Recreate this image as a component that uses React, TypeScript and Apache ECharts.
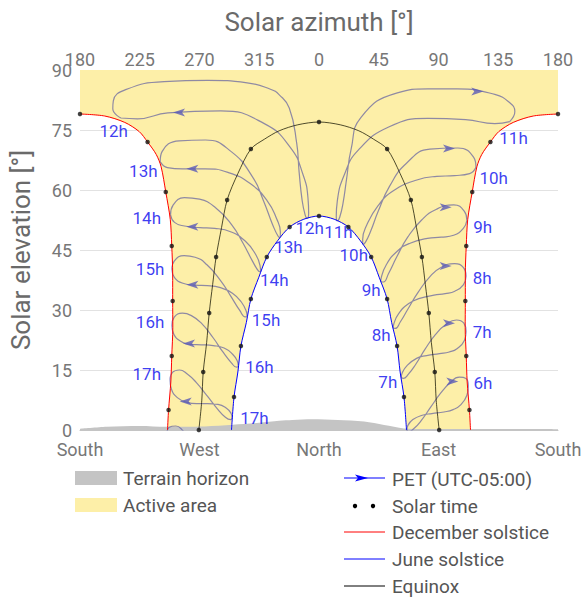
import React, { useEffect, useRef } from 'react';
import * as echarts from 'echarts';

type Pt = [number, number];

// ---------- tick labels ----------
const directionLabels = ['South', 'West', 'North', 'East', 'South'];
const azimuthTickLabels = ['180', '225', '270', '315', '0', '45', '90', '135', '180'];

// ---------- terrain horizon [azimuth from north (°, west negative), elevation (°)] ----------
const terrainHorizon: Pt[] = [
  [-180, 0.3], [-160, 0.8], [-135, 1.0], [-115, 0.8], [-86, 0.9], [-65, 1.3], [-45, 1.8],
  [-30, 2.3], [-20, 2.5], [-5, 2.7], [14, 2.5], [34, 2.1], [49, 1.25], [64, 0.4], [77, 0.25],
  [114, 0.25], [180, 0.2],
];

// ---------- sun paths ----------
const decemberWest: Pt[] = [
  [-180, 79], [-161.4, 78.5], [-146.3, 76.9], [-135.4, 74.6], [-129.1, 72], [-122.6, 68.9],
  [-118.9, 65.8], [-115.4, 59.5], [-112.0, 52.6], [-110.9, 46], [-110.2, 39.0], [-110.2, 32.25],
  [-110.1, 25.6], [-110.9, 18.5], [-111.6, 12], [-113.3, 5], [-114.1, 0],
];
const decemberEast: Pt[] = [
  [114.1, 0], [113.3, 5], [111.6, 12], [110.9, 18.5], [110.1, 25.6], [110.2, 32.25], [110.2, 39.0],
  [110.9, 46], [112.0, 52.6], [115.4, 59.5], [118.9, 65.8], [122.6, 68.9], [129.1, 72],
  [135.4, 74.6], [146.3, 76.9], [161.4, 78.5], [180, 79],
];
const juneSolstice: Pt[] = [
  [-65.9, 0], [-64, 8.25], [-61.1, 14.5], [-58.8, 21], [-54.7, 26.9], [-51.3, 32.75], [-45.3, 38.2],
  [-39.3, 43.25], [-31.2, 47.3], [-22.1, 50.75], [-11.4, 52.7], [0, 53.5], [11.4, 52.7], [22.1, 50.75],
  [31.2, 47.3], [39.3, 43.25], [45.3, 38.2], [51.3, 32.75], [54.7, 26.9], [58.8, 21], [61.1, 14.5],
  [64, 8.25], [65.9, 0],
];
const equinox: Pt[] = [
  [-90.5, 0], [-88.3, 7.3], [-87.2, 14.5], [-84.6, 21.9], [-82.7, 29.25], [-80.1, 36.35], [-77.5, 43.25],
  [-73.4, 50.6], [-69.2, 57.5], [-61.1, 64.1], [-51.3, 70.25], [-41.1, 72.7], [-30, 74.8], [-16, 76.3],
  [0, 77], [16, 76.3], [30, 74.8], [41.1, 72.7], [51.3, 70.25], [61.1, 64.1], [69.2, 57.5], [73.4, 50.6],
  [77.5, 43.25], [80.1, 36.35], [82.7, 29.25], [84.6, 21.9], [87.2, 14.5], [88.3, 7.3], [90.5, 0],
];

// ---------- solar-time hour dots ----------
const solarTimeDots: Pt[] = [
  [-180, 79], [180, 79], [-129.1, 72], [129.1, 72], [-115.4, 59.5], [115.4, 59.5], [-110.9, 46], [110.9, 46],
  [-110.2, 32.25], [110.2, 32.25], [-110.9, 18.5], [110.9, 18.5], [-113.3, 5], [113.3, 5],
  [0, 77], [-51.3, 70.25], [51.3, 70.25], [-69.2, 57.5], [69.2, 57.5], [-77.5, 43.25], [77.5, 43.25],
  [-82.7, 29.25], [82.7, 29.25], [-87.2, 14.5], [87.2, 14.5], [-90.5, 0], [90.5, 0],
  [0, 53.5], [-22.1, 50.75], [22.1, 50.75], [-39.3, 43.25], [39.3, 43.25], [-51.3, 32.75], [51.3, 32.75],
  [-58.8, 21], [58.8, 21], [-64, 8.25], [64, 8.25],
];

// ---------- PET clock-time analemmas ----------
const analemma06: Pt[] = [
  [112.5, 11.0], [111.4, 8.7], [106.7, 6.3], [101.0, 5.1], [94.1, 4.5], [85.0, 4.1], [77.8, 3.7], [70.7, 2.6],
  [66.9, 1.1], [66.2, 0.1], [67.5, -0.4], [71.3, 0.3], [77.1, 2.4], [84.1, 5.7], [91.6, 9.2], [98.4, 11.7],
  [105.7, 13.2], [110.7, 12.9], [112.5, 11.0],
];
const analemma07: Pt[] = [
  [110.8, 24.6], [109.5, 22.4], [104.2, 20.4], [98.1, 19.5], [90.7, 19.1], [81.0, 18.6], [73.5, 17.9],
  [66.3, 16.1], [62.6, 14.2], [62.0, 13.3], [63.5, 12.9], [67.2, 13.9], [73.0, 16.5], [79.9, 20.2],
  [87.8, 23.9], [95.3, 26.3], [103.5, 27.5], [109.1, 26.7], [110.8, 24.6],
];
const analemma08: Pt[] = [
  [110.8, 38.5], [108.7, 36.3], [102.3, 34.7], [95.0, 34.1], [86.6, 33.7], [75.8, 32.9], [67.6, 31.6],
  [60.0, 29.1], [56.4, 26.6], [55.9, 25.5], [57.4, 25.4], [61.2, 27.0], [67.1, 30.3], [74.6, 34.4],
  [83.4, 38.3], [92.1, 40.7], [102.1, 41.6], [108.8, 40.6], [110.8, 38.5],
];
const analemma09: Pt[] = [
  [111.4, 52.4], [108.7, 50.4], [101.4, 48.7], [92.1, 48.2], [81.7, 47.9], [68.6, 46.7], [58.9, 44.7],
  [50.5, 41.2], [46.9, 38.1], [46.5, 37.0], [48.5, 37.0], [52.5, 39.2], [58.6, 43.3], [66.8, 48.2],
  [77.3, 52.5], [88.5, 55.2], [101.5, 56.3], [109.4, 54.7], [111.4, 52.4],
];
const analemma10: Pt[] = [
  [118.2, 65.7], [113.4, 64.1], [102.1, 63.6], [88.7, 63.4], [73.7, 62.5], [56.0, 59.8], [44.5, 56.1],
  [35.8, 51.1], [32.9, 47.6], [33.0, 46.4], [34.9, 46.9], [38.8, 49.6], [44.5, 54.6], [53.1, 60.9],
  [65.9, 66.7], [83.4, 70.2], [104.6, 70.5], [116.4, 68.2], [118.2, 65.7],
];
const analemma11: Pt[] = [
  [143.6, 77.1], [132.5, 76.6], [110.4, 77.6], [81.8, 77.9], [52.9, 75.8], [29.4, 69.9], [19.3, 64.0],
  [13.8, 57.3], [13.0, 53.4], [13.8, 52.3], [15.6, 53.2], [18.1, 56.7], [20.7, 62.6], [24.2, 70.2],
  [31.5, 78.1], [59.0, 84.3], [81.9, 85.3], [104.2, 85.3], [132.4, 83.9], [143.7, 81.8], [147.5, 79.6],
  [143.6, 77.1],
];
const analemma12: Pt[] = [
  [-149.2, 78.0], [-155.3, 80.3], [-154.9, 82.3], [-145.6, 85.1], [-116.7, 87.1], [-83.8, 87.4],
  [-54.1, 86.8], [-36.6, 85.2], [-29.9, 83.8], [-22.4, 80.5], [-16.8, 71.7], [-15.0, 64.6], [-12.7, 57.4],
  [-10.4, 53.7], [-8.9, 52.9], [-7.8, 54.2], [-8.3, 58.0], [-12.0, 63.8], [-21.5, 70.6], [-41.2, 76.6],
  [-74.0, 79.8], [-113.8, 79.3], [-136.7, 77.8], [-149.2, 78.0],
];
const analemma13: Pt[] = [
  [-119.6, 67.1], [-118.2, 69.6], [-105.3, 72.3], [-85.4, 72.5], [-66.1, 69.6], [-50.1, 63.3],
  [-41.9, 57.4], [-35.0, 51.4], [-30.9, 48.5], [-29.2, 48.1], [-29.1, 49.5], [-31.9, 52.8], [-39.0, 57.3],
  [-51.8, 61.6], [-68.6, 64.4], [-85.7, 65.3], [-102.8, 65.3], [-114.2, 65.6], [-119.6, 67.1],
];
const analemma14: Pt[] = [
  [-111.8, 53.8], [-109.9, 56.2], [-101.4, 58.1], [-90.0, 57.7], [-78.3, 55.7], [-65.7, 51.3],
  [-57.4, 46.8], [-49.9, 42.1], [-45.5, 39.7], [-44.0, 39.5], [-44.4, 41.1], [-47.9, 44.0], [-55.4, 47.2],
  [-66.1, 49.5], [-78.5, 50.4], [-89.8, 50.6], [-101.3, 51.0], [-108.8, 51.9], [-111.8, 53.8],
];
const analemma15: Pt[] = [
  [-110.8, 40.2], [-108.9, 42.3], [-101.6, 43.6], [-93.3, 43.2], [-84.4, 41.3], [-74.0, 37.3],
  [-66.7, 33.6], [-59.7, 29.9], [-55.5, 28.3], [-54.2, 28.4], [-54.9, 29.8], [-58.5, 32.0], [-65.2, 34.2],
  [-74.2, 35.6], [-84.2, 36.1], [-93.1, 36.2], [-102.5, 36.7], [-108.8, 38.1], [-110.8, 40.2],
];
const analemma16: Pt[] = [
  [-110.8, 26.1], [-109.0, 28.2], [-102.9, 29.2], [-96.1, 28.6], [-88.6, 26.7], [-79.6, 23.0],
  [-72.8, 19.7], [-66.0, 16.8], [-62.0, 15.7], [-60.8, 16.0], [-61.6, 17.3], [-65.2, 19.0], [-71.5, 20.5],
  [-79.7, 21.1], [-88.6, 21.3], [-96.3, 21.4], [-104.2, 22.2], [-109.3, 23.9], [-110.8, 26.1],
];
const analemma17: Pt[] = [
  [-112.2, 12.5], [-110.4, 14.4], [-105.1, 15.0], [-99.2, 14.0], [-92.5, 11.9], [-83.9, 8.4], [-77.3, 5.6],
  [-70.5, 3.2], [-66.5, 2.6], [-65.4, 3.1], [-66.3, 4.2], [-69.9, 5.5], [-76.1, 6.4], [-83.9, 6.6],
  [-92.2, 6.6], [-99.4, 6.9], [-106.7, 8.1], [-111.1, 10.2], [-112.2, 12.5],
];
const analemma18: Pt[] = [
  [-113.5, -3.5], [-114.5, -1.0], [-112.8, 0.7], [-107.8, 1.0], [-102.1, -0.3], [-95.6, -2.6],
];

// direction arrows on the analemmas (east side points right, west side points left)
const arrowsEast: Pt[] = [[100.4, 12.1], [97.9, 26.7], [95.4, 41.0], [95.4, 55.7], [97.9, 70.4], [119.2, 84.6]];
const arrowsWest: Pt[] = [[-105.4, 79.4], [-95.4, 65.3], [-95.4, 50.8], [-95.4, 36.3], [-97.9, 21.6], [-100.4, 7.1]];

// clock-hour labels [azimuth, elevation, text]
const hourLabels: [number, number, string][] = [
  [146.5, 72.9, '11h'], [131.6, 62.9, '10h'], [123.3, 50.8, '9h'], [122.9, 37.9, '8h'], [122.9, 24.6, '7h'], [123.5, 11.7, '6h'],
  [14.6, 49.6, '11h'], [26.2, 43.75, '10h'], [39.3, 35, '9h'], [46.8, 23.75, '8h'], [51.8, 12.1, '7h'], [-7.0, 50.5, '12h'],
  [-154.6, 74.75, '12h'], [-132.3, 64.75, '13h'], [-129.7, 53.1, '14h'], [-127.2, 40.2, '15h'], [-127.2, 26.9, '16h'], [-129.7, 13.95, '17h'],
  [-23.05, 45.8, '13h'], [-33.7, 37.5, '14h'], [-39.9, 27.5, '15h'], [-44.9, 15.8, '16h'], [-48.6, 2.9, '17h'],
];

const analemmas: Pt[][] = [
  analemma06, analemma07, analemma08, analemma09, analemma10, analemma11,
  analemma12, analemma13, analemma14, analemma15, analemma16, analemma17, analemma18,
];

// ---------- styling ----------
const FONT = 'Roboto, "Noto Sans", sans-serif';
const ACTIVE = '#fdefa8';
const TERRAIN = '#c4c4c4';
const PET_LINE = 'rgba(70, 70, 160, 0.6)';
const ARROW = '#5a5ab6';
const HOUR_TEXT = '#0a0aee';
const TICK = '#777777';
const NAME = '#6a6a6a';
const LEGEND_TEXT = '#555555';

const ARROW_RIGHT = 'path://M0,0L12,4L0,8L3,4Z';
const ARROW_LEFT = 'path://M12,0L0,4L12,8L9,4Z';

const activeAreaBoundary: Pt[] = [...decemberWest, ...juneSolstice, ...decemberEast, [180, 90], [-180, 90]];

function legendText(x: number, y: number, text: string) {
  return {
    type: 'text', x, y, silent: true,
    style: { text, fill: LEGEND_TEXT, fontSize: 19, fontFamily: FONT, verticalAlign: 'middle', align: 'left' },
  };
}

function buildOption(): any {
  const lineBase = { type: 'line', showSymbol: false, symbol: 'none', silent: true, animation: false };
  const series: any[] = [];

  series.push({
    type: 'custom', name: 'Active area', silent: true, z: 1, data: [[0, 0]],
    renderItem: (_p: any, api: any) => ({
      type: 'polygon',
      shape: { points: activeAreaBoundary.map((p) => api.coord(p)) },
      style: { fill: ACTIVE },
    }),
  });
  series.push({
    ...lineBase, name: 'Terrain horizon', data: terrainHorizon, smooth: 0.3, z: 2,
    lineStyle: { width: 0 }, areaStyle: { color: TERRAIN, opacity: 1, origin: 'start' },
  });
  analemmas.forEach((a) => {
    series.push({ ...lineBase, name: 'PET (UTC-05:00)', data: a, smooth: 0.5, z: 3, lineStyle: { color: PET_LINE, width: 1.2 } });
  });
  series.push({ ...lineBase, name: 'Equinox', data: equinox, smooth: 0.3, z: 4, lineStyle: { color: 'rgba(20,20,0,0.75)', width: 1 } });
  series.push({ ...lineBase, name: 'June solstice', data: juneSolstice, smooth: 0.3, z: 4, lineStyle: { color: '#0000ff', width: 1 } });
  series.push({ ...lineBase, name: 'December solstice', data: decemberWest, smooth: 0.3, z: 4, lineStyle: { color: '#ff0000', width: 1 } });
  series.push({ ...lineBase, name: 'December solstice', data: decemberEast, smooth: 0.3, z: 4, lineStyle: { color: '#ff0000', width: 1 } });
  series.push({
    type: 'scatter', name: 'Solar time', data: solarTimeDots, symbolSize: 4.5, silent: true, z: 5,
    itemStyle: { color: '#111111' },
  });
  series.push({
    type: 'scatter', name: 'arrows east', data: arrowsEast, symbol: ARROW_RIGHT, symbolSize: [12, 8], silent: true, z: 6,
    itemStyle: { color: ARROW },
  });
  series.push({
    type: 'scatter', name: 'arrows west', data: arrowsWest, symbol: ARROW_LEFT, symbolSize: [12, 8], silent: true, z: 6,
    itemStyle: { color: ARROW },
  });
  series.push({
    type: 'scatter', name: 'hour labels', silent: true, z: 7, symbolSize: 1,
    data: hourLabels.map(([a, e, t]) => ({ value: [a, e], name: t })),
    itemStyle: { color: 'transparent' },
    label: { show: true, position: 'inside', formatter: '{b}', color: HOUR_TEXT, fontSize: 17, fontFamily: FONT },
  });

  return {
    animation: false,
    backgroundColor: '#ffffff',
    textStyle: { fontFamily: FONT },
    grid: { left: 77, right: 28, top: 70, bottom: 168, containLabel: false },
    xAxis: [
      {
        type: 'value', position: 'bottom', min: -180, max: 180, interval: 90,
        axisLine: { show: true, lineStyle: { color: '#c4c4c4', width: 1 } },
        axisTick: { show: false }, splitLine: { show: false },
        axisLabel: {
          color: TICK, fontSize: 18, fontFamily: FONT, margin: 10,
          formatter: (v: number) => directionLabels[Math.round((v + 180) / 90)],
        },
      },
      {
        type: 'value', position: 'top', min: -180, max: 180, interval: 45,
        name: 'Solar azimuth [°]', nameLocation: 'middle', nameGap: 35,
        nameTextStyle: { color: NAME, fontSize: 26, fontFamily: FONT },
        axisLine: { show: false }, axisTick: { show: false }, splitLine: { show: false },
        axisLabel: {
          color: TICK, fontSize: 18, fontFamily: FONT, margin: 2,
          formatter: (v: number) => azimuthTickLabels[Math.round((v + 180) / 45)],
        },
      },
    ],
    yAxis: {
      type: 'value', min: 0, max: 90, interval: 15,
      name: 'Solar elevation [°]', nameLocation: 'middle', nameGap: 46, nameRotate: 90,
      nameTextStyle: { color: NAME, fontSize: 26, fontFamily: FONT },
      axisLine: { show: false }, axisTick: { show: false },
      splitLine: { lineStyle: { color: '#e2e2e2', width: 1 } },
      axisLabel: { color: TICK, fontSize: 18, fontFamily: FONT, margin: 8 },
    },
    series,
    graphic: [
      { type: 'rect', silent: true, shape: { x: 75, y: 471, width: 42, height: 14 }, style: { fill: TERRAIN } },
      legendText(123, 478, 'Terrain horizon'),
      { type: 'rect', silent: true, shape: { x: 75, y: 498, width: 42, height: 14 }, style: { fill: ACTIVE } },
      legendText(123, 505, 'Active area'),
      { type: 'line', silent: true, shape: { x1: 344, y1: 478, x2: 385, y2: 478 }, style: { stroke: '#0000ff', lineWidth: 1.2 } },
      { type: 'polygon', silent: true, shape: { points: [[355, 474.5], [368, 478], [355, 481.5], [358, 478]] }, style: { fill: '#0000ff' } },
      legendText(392, 479, 'PET (UTC-05:00)'),
      { type: 'circle', silent: true, shape: { cx: 355, cy: 506, r: 2.2 }, style: { fill: '#000000' } },
      { type: 'circle', silent: true, shape: { cx: 373, cy: 506, r: 2.2 }, style: { fill: '#000000' } },
      legendText(392, 506, 'Solar time'),
      { type: 'line', silent: true, shape: { x1: 344, y1: 532, x2: 385, y2: 532 }, style: { stroke: '#ff0000', lineWidth: 1 } },
      legendText(392, 532, 'December solstice'),
      { type: 'line', silent: true, shape: { x1: 344, y1: 559, x2: 385, y2: 559 }, style: { stroke: '#0000ff', lineWidth: 1 } },
      legendText(392, 559, 'June solstice'),
      { type: 'line', silent: true, shape: { x1: 344, y1: 586, x2: 385, y2: 586 }, style: { stroke: '#000000', lineWidth: 1 } },
      legendText(392, 586, 'Equinox'),
    ],
  };
}

export default function App() {
  const ref = useRef<HTMLDivElement>(null);
  useEffect(() => {
    if (!ref.current) return;
    const chart = echarts.init(ref.current, null, { renderer: 'svg' });
    chart.setOption(buildOption());
    return () => chart.dispose();
  }, []);
  return <div ref={ref} style={{ position: 'absolute', left: 0, top: 0, width: 586, height: 598 }} />;
}
